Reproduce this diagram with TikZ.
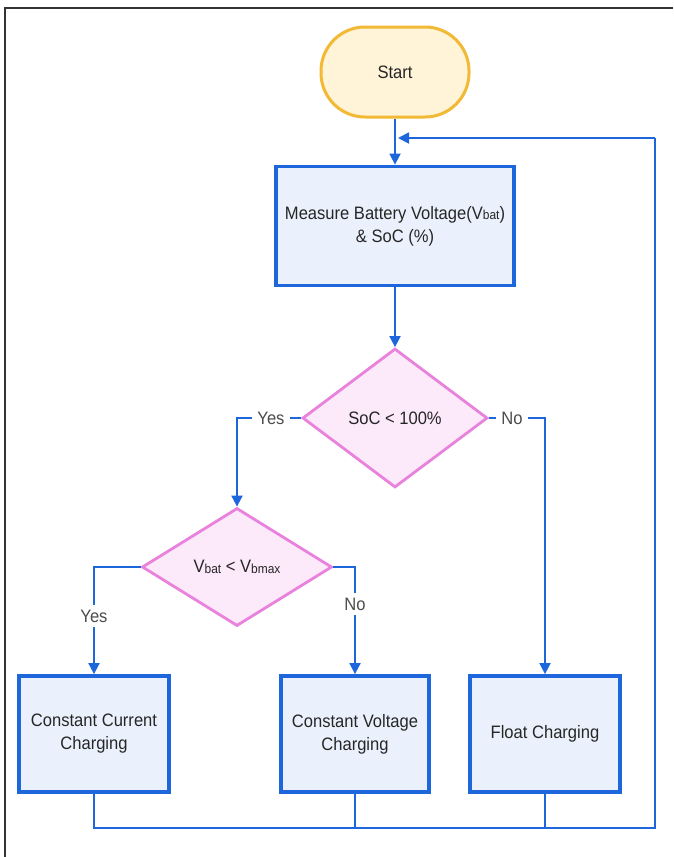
\documentclass[tikz,border=0pt]{standalone}
\usepackage{fontspec}
\setmainfont{Liberation Sans}[FakeStretch=0.92]
\usetikzlibrary{shapes.geometric,arrows.meta}
\definecolor{lineblue}{HTML}{1E66DC}
\definecolor{boxfill}{HTML}{EBF1FC}
\definecolor{pinkline}{HTML}{E982DC}
\definecolor{pinkfill}{HTML}{FCE9FA}
\definecolor{yelline}{HTML}{F2B935}
\definecolor{yelfill}{HTML}{FFF3D8}
\definecolor{framegray}{HTML}{333333}
\newcommand{\sbt}[1]{\raisebox{-0.6pt}{\fontsize{13}{14}\selectfont #1}}
\tikzset{
  procbox/.style={draw=lineblue, fill=boxfill, line width=3.8pt, inner sep=0pt, align=center, text=black!85},
  decbox/.style={diamond, draw=pinkline, fill=pinkfill, line width=2.8pt, inner sep=0pt, text=black!85},
  startbox/.style={draw=yelline, fill=yelfill, line width=3pt, rounded corners=44pt, text=black!85},
  conn/.style={draw=lineblue, line width=1.8pt},
  arr/.style={conn, -{Triangle[width=11pt,length=11pt]}},
  lbl/.style={fill=white, inner sep=5pt, text=black!70}
}
\begin{document}
\begin{tikzpicture}[x=1pt,y=-1pt, font=\fontsize{18}{23}\selectfont]
\useasboundingbox (0,0) rectangle (673,857);
\fill[white] (0,0) rectangle (673,857);
\draw[framegray, line width=2pt] (5,857) -- (5,8) -- (673,8);

\node[startbox, minimum width=148pt, minimum height=90pt] (start) at (395,72) {Start};
\node[procbox, minimum width=238pt, minimum height=119pt] (meas) at (395,226)
  {Measure Battery Voltage(V\sbt{bat})\\ \& SoC (\%)};
\node[decbox, minimum width=185pt, minimum height=139pt] (d1) at (395,418) {SoC < 100\%};
\node[decbox, minimum width=190pt, minimum height=118pt] (d2) at (237,567) {V\sbt{bat} < V\sbt{bmax}};
\node[procbox, minimum width=150pt, minimum height=116pt] (cc) at (94,734) {Constant Current\\Charging};
\node[procbox, minimum width=148pt, minimum height=116pt] (cv) at (355,734) {Constant Voltage\\Charging};
\node[procbox, minimum width=150pt, minimum height=116pt] (fl) at (545,734) {Float Charging};

\coordinate (yes1) at (237,418);
\coordinate (no1) at (545,418);
\coordinate (yes2) at (94,567);
\coordinate (no2) at (355,567);
\coordinate (bl) at (94,828);
\coordinate (br) at (655,828);
\coordinate (tr) at (655,138);
\coordinate (entry) at (398,138);

\draw[arr] (start) -- (meas);
\draw[arr] (meas) -- (d1);
\draw[arr] (d1.west) -- (yes1) -- (d2.north);
\draw[arr] (d1.east) -- (no1) -- (fl.north);
\draw[arr] (d2.west) -- (yes2) -- (cc.north);
\draw[arr] (d2.east) -- (no2) -- (cv.north);

\node[lbl] (lyes1) at (271,418) {Yes};
\node[lbl] (lno1) at (512,418) {No};
\node[lbl] (lyes2) at (94,616) {Yes};
\node[lbl] (lno2) at (355,604) {No};

\draw[conn] (cc.south) -- (bl) -- (br) -- (tr);
\draw[arr] (tr) -- (entry);
\draw[conn] (cv.south) -- (cv.south |- bl);
\draw[conn] (fl.south) -- (fl.south |- bl);
\end{tikzpicture}
\end{document}
